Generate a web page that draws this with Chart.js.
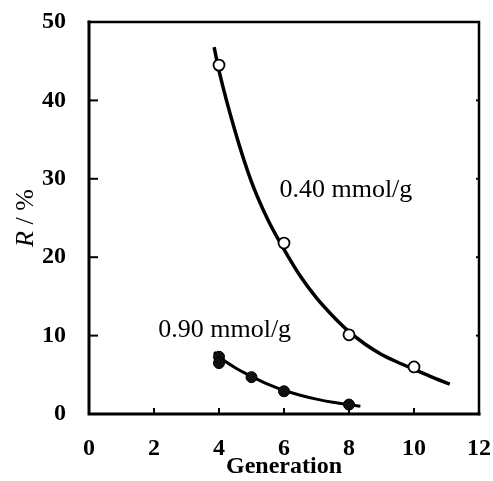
<!DOCTYPE html>
<html>
<head>
<meta charset="utf-8">
<script src="https://cdn.jsdelivr.net/npm/chart.js@4.4.1/dist/chart.umd.min.js"></script>
<style>
  html, body { margin: 0; padding: 0; background: #fff; }
  #wrap { width: 493px; height: 481px; }
</style>
</head>
<body>
<div id="wrap"><canvas id="c" width="493" height="481"></canvas></div>
<script>
// Measured points, 0.40 mmol/g (open circles)
const gen40 = [4, 6, 8, 10];
const r40 = [44.5, 21.8, 10.1, 6.0];
// Measured points, 0.90 mmol/g (filled circles)
const gen90 = [4, 4, 5, 6, 8];
const r90 = [7.3, 6.5, 4.7, 2.9, 1.2];
// Fitted curves, sampled along the drawn trend lines
const fitGen40 = [3.85, 4.0, 4.5, 5.0, 5.5, 6.0, 6.5, 7.0, 7.5, 8.0, 8.5, 9.0, 9.5, 10.0, 10.5, 11.1];
const fitR40   = [46.8, 43.8, 36.0, 29.6, 24.8, 21.0, 17.6, 14.8, 12.5, 10.5, 8.9, 7.6, 6.6, 5.7, 4.8, 3.8];
const fitGen90 = [3.85, 4.0, 4.5, 5.0, 5.5, 6.0, 6.5, 7.0, 7.5, 8.0, 8.35];
const fitR90   = [7.9, 7.3, 5.9, 4.8, 3.8, 3.0, 2.4, 1.9, 1.5, 1.2, 1.0];
// Axis ticks
const xTicks = [0, 2, 4, 6, 8, 10, 12];
const yTicks = [0, 10, 20, 30, 40, 50];
// Curve labels: [text, generation, R] (left end of the baseline)
const curveLabels = [
  ['0.40 mmol/g', 5.86, 27.7],
  ['0.90 mmol/g', 2.13, 9.8]
];

const SERIF = '"Liberation Serif", "DejaVu Serif", serif';
const pts = (xs, ys) => xs.map((x, i) => ({ x: x, y: ys[i] }));

// Frame, inward tick marks, curve labels and the y-axis title
const decor = {
  id: 'decor',
  afterDraw(chart) {
    const { ctx, chartArea: a, scales: { x, y } } = chart;
    ctx.save();
    ctx.strokeStyle = '#000';
    ctx.lineCap = 'square';
    // frame
    ctx.lineWidth = 3;
    ctx.beginPath();
    ctx.moveTo(a.left, a.top); ctx.lineTo(a.left, a.bottom); ctx.lineTo(a.right, a.bottom);
    ctx.stroke();
    ctx.lineWidth = 2.5;
    ctx.beginPath();
    ctx.moveTo(a.left, a.top); ctx.lineTo(a.right, a.top); ctx.lineTo(a.right, a.bottom);
    ctx.stroke();
    // inward ticks
    ctx.lineWidth = 2;
    ctx.lineCap = 'butt';
    yTicks.slice(1, -1).forEach(v => {
      const py = y.getPixelForValue(v);
      ctx.beginPath(); ctx.moveTo(a.left, py); ctx.lineTo(a.left + 9, py); ctx.stroke();
      ctx.beginPath(); ctx.moveTo(a.right, py); ctx.lineTo(a.right - 3, py); ctx.stroke();
    });
    xTicks.slice(1, -1).forEach(v => {
      const px = x.getPixelForValue(v);
      ctx.beginPath(); ctx.moveTo(px, a.bottom); ctx.lineTo(px, a.bottom - 6); ctx.stroke();
    });
    // curve labels
    ctx.fillStyle = '#000';
    ctx.font = '26px ' + SERIF;
    ctx.textBaseline = 'alphabetic';
    ctx.textAlign = 'left';
    curveLabels.forEach(([t, gx, gy]) => {
      ctx.fillText(t, x.getPixelForValue(gx), y.getPixelForValue(gy));
    });
    // y-axis title: italic R followed by " / %"
    ctx.translate(33, (a.top + a.bottom) / 2);
    ctx.rotate(-Math.PI / 2);
    ctx.font = 'italic 26px ' + SERIF;
    const wR = ctx.measureText('R').width;
    ctx.font = '26px ' + SERIF;
    const wRest = ctx.measureText(' / %').width;
    const start = -(wR + wRest) / 2;
    ctx.font = 'italic 26px ' + SERIF;
    ctx.fillText('R', start, 0);
    ctx.font = '26px ' + SERIF;
    ctx.fillText(' / %', start + wR, 0);
    ctx.restore();
  }
};

new Chart(document.getElementById('c'), {
  type: 'scatter',
  data: {
    datasets: [
      {
        label: '0.40 mmol/g',
        data: pts(gen40, r40),
        pointRadius: 5.5,
        pointBorderWidth: 1.8,
        pointBackgroundColor: '#fff',
        pointBorderColor: '#000',
        order: 0
      },
      {
        label: '0.90 mmol/g',
        data: pts(gen90, r90),
        pointRadius: 5.5,
        pointBorderWidth: 1,
        pointBackgroundColor: '#111',
        pointBorderColor: '#000',
        order: 1
      },
      {
        label: 'fit 0.40',
        data: pts(fitGen40, fitR40),
        showLine: true,
        pointRadius: 0,
        borderColor: '#000',
        borderWidth: 3.5,
        cubicInterpolationMode: 'monotone',
        order: 2
      },
      {
        label: 'fit 0.90',
        data: pts(fitGen90, fitR90),
        showLine: true,
        pointRadius: 0,
        borderColor: '#000',
        borderWidth: 3,
        cubicInterpolationMode: 'monotone',
        order: 3
      }
    ]
  },
  options: {
    responsive: false,
    animation: false,
    devicePixelRatio: 1,
    layout: { padding: { left: 0, top: 22, right: 14, bottom: 0 } },
    plugins: { legend: { display: false }, tooltip: { enabled: false } },
    scales: {
      x: {
        type: 'linear',
        min: 0, max: 12,
        afterBuildTicks: s => { s.ticks = xTicks.map(v => ({ value: v })); },
        afterFit: s => { s.height = 67; s.paddingLeft = 0; s.paddingRight = 0; },
        grid: { display: false },
        border: { display: false },
        ticks: { color: '#000', padding: 12, maxRotation: 0, font: { family: SERIF, size: 24, weight: 'bold' } },
        title: { display: true, text: 'Generation', color: '#000', padding: { top: 0, bottom: 0 }, font: { family: SERIF, size: 24, weight: 'bold' } }
      },
      y: {
        type: 'linear',
        min: 0, max: 50,
        afterBuildTicks: s => { s.ticks = yTicks.map(v => ({ value: v })); },
        afterFit: s => { s.width = 89; s.paddingTop = 0; s.paddingBottom = 0; },
        grid: { display: false },
        border: { display: false },
        ticks: { color: '#000', padding: 15, font: { family: SERIF, size: 24, weight: 'bold' } }
      }
    }
  },
  plugins: [decor]
});
</script>
</body>
</html>
